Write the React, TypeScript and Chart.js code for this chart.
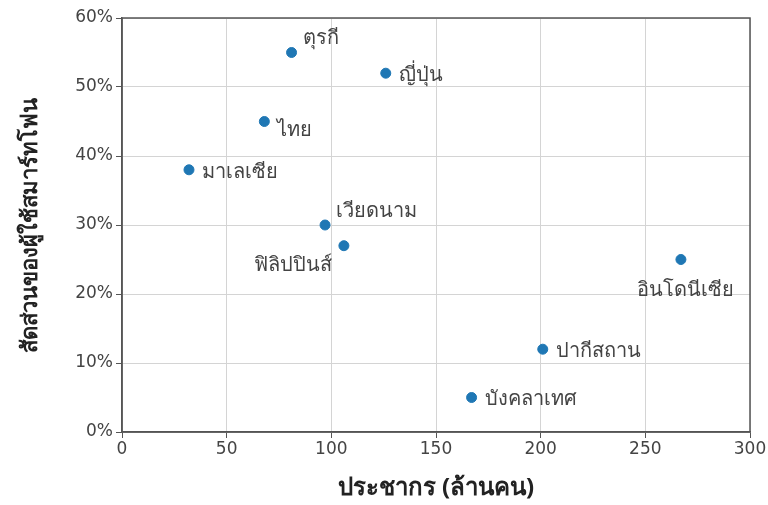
import React, { useEffect, useRef } from "react";
import { Chart, registerables } from "chart.js";

Chart.register(...registerables);

const countries = ["ตุรกี", "ญี่ปุ่น", "ไทย", "มาเลเซีย", "เวียดนาม", "ฟิลิปปินส์", "อินโดนีเซีย", "ปากีสถาน", "บังคลาเทศ"];
const population = [81, 126, 68, 32, 97, 106, 267, 201, 167];
const smartphoneShare = [55, 52, 45, 38, 30, 27, 25, 12, 5];
const labelPlacement = ["topRight", "right", "bottomRight", "right", "topRight", "bottomLeft", "bottom", "right", "right"];
const xTicks = [0, 50, 100, 150, 200, 250, 300];
const yTicks = [0, 10, 20, 30, 40, 50, 60];

const TICK_FONT = "'DejaVu Sans', sans-serif";
const FONT = "'Noto Sans', 'DejaVu Sans', sans-serif";
const TEXT = "#444";

const labelPlugin = {
  id: "pointLabels",
  afterDatasetsDraw(chart: any) {
    const ctx = chart.ctx;
    const meta = chart.getDatasetMeta(0);
    ctx.save();
    ctx.font = `20px ${FONT}`;
    ctx.fillStyle = TEXT;
    meta.data.forEach((pt: any, i: number) => {
      const p = labelPlacement[i];
      let x = pt.x, y = pt.y;
      ctx.textBaseline = "middle";
      ctx.textAlign = "left";
      if (p === "right") { x += 13; y += 2; }
      else if (p === "topRight") { x += 11; y -= 14; }
      else if (p === "bottomRight") { x += 13; y += 9; }
      else if (p === "bottomLeft") { ctx.textAlign = "right"; x -= 12; y += 20; }
      else if (p === "bottom") { ctx.textAlign = "center"; x += 5; y += 31; }
      ctx.fillText(countries[i], x, y);
    });
    ctx.restore();
  },
};

const framePlugin = {
  id: "frame",
  afterDraw(chart: any) {
    const { ctx, chartArea: a } = chart;
    ctx.save();
    ctx.strokeStyle = "#555";
    ctx.lineWidth = 1.5;
    ctx.strokeRect(a.left, a.top, a.right - a.left, a.bottom - a.top);
    ctx.restore();
  },
};

export default function App() {
  const ref = useRef<HTMLCanvasElement>(null);
  useEffect(() => {
    document.body.style.margin = "0";
    const chart = new Chart(ref.current!, {
      type: "scatter",
      data: {
        datasets: [
          {
            data: population.map((x, i) => ({ x, y: smartphoneShare[i] })),
            backgroundColor: "#1f77b4",
            borderColor: "#1f77b4",
            pointRadius: 5,
          },
        ],
      },
      options: {
        animation: false,
        responsive: false,
        layout: { padding: { top: 18, right: 18, left: 0, bottom: 0 } },
        plugins: { legend: { display: false }, tooltip: { enabled: false } },
        scales: {
          x: {
            type: "linear",
            min: 0,
            max: 300,
            afterBuildTicks: (s: any) => { s.ticks = xTicks.map((v) => ({ value: v })); },
            afterFit: (s: any) => { s.height = 73; },
            ticks: { color: TEXT, font: { family: TICK_FONT, size: 17 }, padding: 1 },
            grid: { color: "#d4d4d4", lineWidth: 1, tickLength: 6, tickColor: "#555" },
            border: { color: "#555", width: 1.5 },
            title: {
              display: true,
              text: "ประชากร (ล้านคน)",
              color: "#222",
              font: { family: FONT, size: 24, weight: "bold" },
              padding: { top: 4, bottom: 2 },
            },
          },
          y: {
            type: "linear",
            min: 0,
            max: 60,
            afterBuildTicks: (s: any) => { s.ticks = yTicks.map((v) => ({ value: v })); },
            afterFit: (s: any) => { s.width = 122; },
            ticks: { color: TEXT, font: { family: TICK_FONT, size: 17 }, padding: 3, callback: (v: any) => v + "%" },
            grid: { color: "#d4d4d4", lineWidth: 1, tickLength: 6, tickColor: "#555" },
            border: { color: "#555", width: 1.5 },
            title: {
              display: true,
              text: "สัดส่วนของผู้ใช้สมาร์ทโฟน",
              color: "#222",
              font: { family: FONT, size: 22, weight: "bold" },
              padding: { top: 18, bottom: 0 },
            },
          },
        },
      },
      plugins: [labelPlugin, framePlugin],
    });
    return () => chart.destroy();
  }, []);
  return <canvas ref={ref} width={768} height={505} style={{ display: "block" }} />;
}
